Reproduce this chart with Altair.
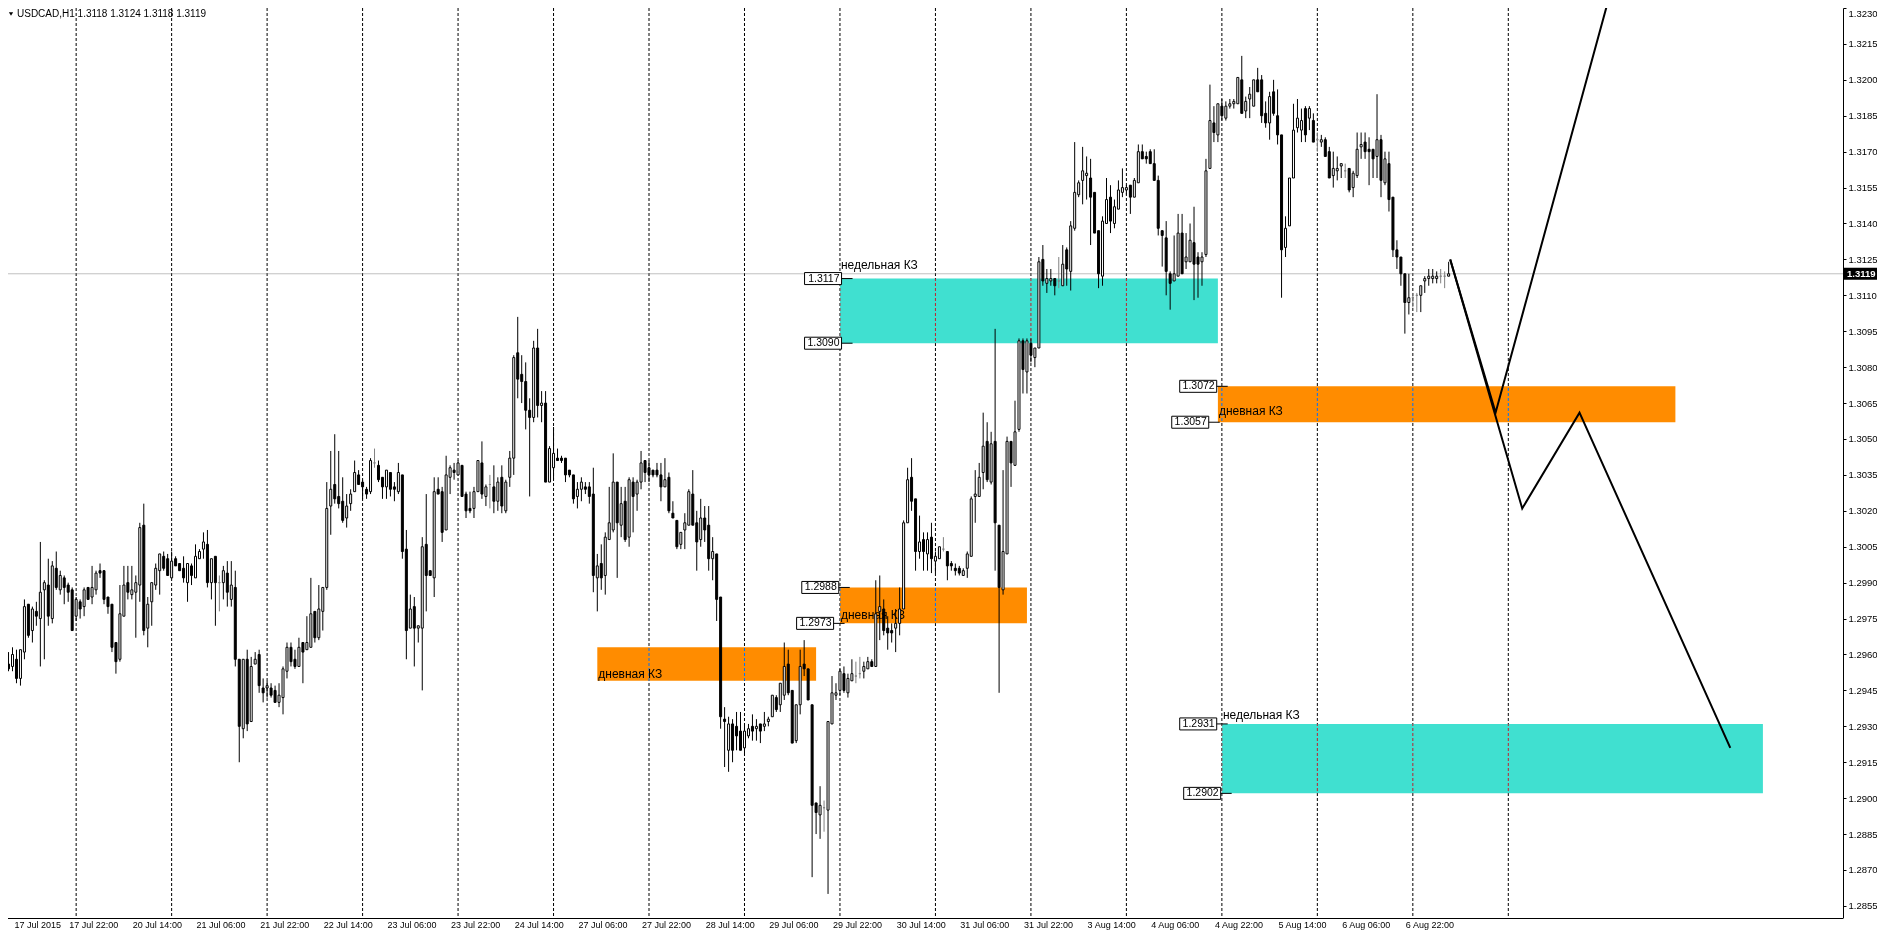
import altair as alt
import pandas as pd

FONT = "Liberation Sans"
W, H = 1835, 910
X_MIN, X_MAX = 2.125, 460.875
Y_MAX = 1.3230
Y_MIN = Y_MAX - H / 23944.0

TITLE = "USDCAD,H1  1.3118 1.3124 1.3118 1.3119"
CURRENT_PRICE = 1.3119

# ---- hourly candles, bar index 1.. (4 px per bar in the original) ----
FIRST_BAR = 1
OPEN = [
    1.2956,1.2955,1.2958,1.2950,1.2961,1.2981,1.2970,1.2978,1.2975,1.2987,
    1.2989,1.2975,1.2996,1.2987,1.2992,1.2989,1.2987,1.2976,1.2982,1.2980,
    1.2988,1.2984,1.2987,1.2995,1.2995,1.2984,1.2981,1.2965,1.2958,1.2976,
    1.2990,1.2985,1.2986,1.2989,1.3014,1.2971,1.2982,1.2989,1.2995,1.3001,
    1.3000,1.2992,1.3000,1.2998,1.2996,1.2990,1.2997,1.2992,1.3000,1.3004,
    1.3006,1.2990,1.3001,1.2990,1.2990,1.2994,1.2983,1.2988,1.2958,1.2929,
    1.2958,1.2932,1.2956,1.2960,1.2946,1.2946,1.2946,1.2945,1.2940,1.2942,
    1.2953,1.2963,1.2958,1.2955,1.2965,1.2962,1.2963,1.2978,1.2967,1.2978,
    1.2988,1.3022,1.3031,1.3026,1.3024,1.3017,1.3023,1.3028,1.3035,1.3032,
    1.3029,1.3028,1.3040,1.3039,1.3034,1.3030,1.3036,1.3030,1.3028,1.3035,
    1.3004,1.2971,1.2980,1.2971,1.2971,1.3006,1.2995,1.2992,1.3029,1.3028,
    1.3012,1.3034,1.3037,1.3035,1.3039,1.3027,1.3021,1.3021,1.3028,1.3040,
    1.3026,1.3031,1.3030,1.3024,1.3034,1.3020,1.3034,1.3042,1.3086,1.3077,
    1.3074,1.3062,1.3059,1.3088,1.3064,1.3065,1.3032,1.3038,1.3042,1.3042,
    1.3042,1.3037,1.3035,1.3026,1.3029,1.3030,1.3030,1.3027,1.2992,1.2998,
    1.2993,1.3008,1.3012,1.3032,1.3014,1.3024,1.3009,1.3032,1.3027,1.3032,
    1.3041,1.3038,1.3037,1.3037,1.3035,1.3030,1.3034,1.3019,1.3016,1.3006,
    1.3012,1.3014,1.3027,1.3015,1.3008,1.3017,1.3014,1.3000,1.3002,1.2984,
    1.2933,1.2920,1.2931,1.2930,1.2928,1.2921,1.2926,1.2930,1.2929,1.2931,
    1.2930,1.2932,1.2934,1.2942,1.2939,1.2943,1.2956,1.2945,1.2924,1.2939,
    1.2956,1.2954,1.2939,1.2898,1.2893,1.2896,1.2895,1.2931,1.2943,1.2945,
    1.2952,1.2944,1.2949,1.2951,1.2952,1.2953,1.2954,1.2957,1.2955,1.2978,
    1.2979,1.2971,1.2970,1.2971,1.2973,1.2979,1.3015,1.3034,1.3025,1.3003,
    1.3008,1.3002,1.3009,1.2999,1.3000,1.3004,1.3003,1.2998,1.2996,1.2996,
    1.2993,1.2996,1.3001,1.3026,1.3026,1.3036,1.3049,1.3032,1.3049,1.3014,
    1.2987,1.3002,1.3049,1.3039,1.3054,1.3091,1.3078,1.3090,1.3084,1.3088,
    1.3125,1.3115,1.3116,1.3117,1.3116,1.3114,1.3129,1.3120,1.3138,1.3152,
    1.3158,1.3160,1.3159,1.3153,1.3137,1.3118,1.3140,1.3151,1.3140,1.3146,
    1.3153,1.3154,1.3156,1.3151,1.3157,1.3170,1.3168,1.3170,1.3165,1.3158,
    1.3137,1.3134,1.3119,1.3116,1.3118,1.3136,1.3124,1.3124,1.3132,1.3126,
    1.3124,1.3127,1.3163,1.3182,1.3177,1.3189,1.3184,1.3189,1.3190,1.3190,
    1.3200,1.3187,1.3192,1.3189,1.3200,1.3200,1.3186,1.3182,1.3195,1.3185,
    1.3177,1.3130,1.3139,1.3159,1.3180,1.3179,1.3188,1.3184,1.3183,1.3175,
    1.3174,1.3175,1.3170,1.3160,1.3162,1.3164,1.3162,1.3163,1.3155,1.3160,
    1.3172,1.3174,1.3171,1.3171,1.3168,1.3175,1.3157,1.3165,1.3151,1.3129,
    1.3126,1.3119,1.3107,1.3109,1.3110,1.3110,1.3116,1.3117,1.3117,1.3117,1.3118,1.3118,1.3118,
]
HIGH = [
    1.2961,1.2963,1.2962,1.2962,1.2983,1.2981,1.2980,1.2982,1.3007,1.2991,
    1.3000,1.2999,1.3003,1.2995,1.2993,1.2990,1.2988,1.2984,1.2983,1.2988,
    1.2988,1.2997,1.2995,1.2998,1.2995,1.2984,1.2981,1.2965,1.2989,1.2997,
    1.2997,1.2997,1.2993,1.3015,1.3023,1.2984,1.2990,1.2998,1.3002,1.3003,
    1.3002,1.3003,1.3001,1.2998,1.3001,1.2998,1.2998,1.3006,1.3004,1.3011,
    1.3012,1.3000,1.3001,1.2993,1.2997,1.2999,1.2999,1.2995,1.2958,1.2958,
    1.2962,1.2959,1.2961,1.2962,1.2950,1.2949,1.2948,1.2947,1.2948,1.2955,
    1.2965,1.2965,1.2962,1.2967,1.2965,1.2976,1.2992,1.2978,1.2989,1.2988,
    1.3032,1.3045,1.3052,1.3045,1.3034,1.3027,1.3029,1.3041,1.3037,1.3033,
    1.3030,1.3042,1.3046,1.3041,1.3034,1.3037,1.3036,1.3032,1.3040,1.3035,
    1.3012,1.2985,1.2984,1.2972,1.3009,1.3027,1.2995,1.3034,1.3034,1.3030,
    1.3043,1.3039,1.3040,1.3041,1.3039,1.3028,1.3028,1.3030,1.3041,1.3049,
    1.3031,1.3035,1.3039,1.3034,1.3039,1.3033,1.3045,1.3085,1.3101,1.3085,
    1.3082,1.3067,1.3091,1.3096,1.3070,1.3070,1.3047,1.3055,1.3046,1.3043,
    1.3042,1.3037,1.3035,1.3032,1.3034,1.3032,1.3032,1.3038,1.3002,1.3006,
    1.3011,1.3030,1.3044,1.3032,1.3030,1.3030,1.3034,1.3034,1.3033,1.3045,
    1.3041,1.3041,1.3037,1.3040,1.3040,1.3042,1.3036,1.3024,1.3016,1.3011,
    1.3019,1.3029,1.3037,1.3020,1.3025,1.3022,1.3022,1.3009,1.3002,1.2984,
    1.2938,1.2934,1.2933,1.2936,1.2936,1.2931,1.2931,1.2935,1.2933,1.2931,
    1.2936,1.2934,1.2943,1.2943,1.2948,1.2965,1.2962,1.2945,1.2939,1.2962,
    1.2966,1.2954,1.2939,1.2898,1.2905,1.2899,1.2932,1.2951,1.2948,1.2954,
    1.2955,1.2952,1.2958,1.2957,1.2959,1.2957,1.2959,1.2958,1.2991,1.2993,
    1.2983,1.2976,1.2973,1.2979,1.2988,1.3016,1.3038,1.3042,1.3025,1.3018,
    1.3011,1.3011,1.3015,1.3003,1.3005,1.3009,1.3003,1.2999,1.2998,1.2997,
    1.2996,1.3003,1.3026,1.3037,1.3040,1.3061,1.3057,1.3053,1.3096,1.3014,
    1.3037,1.3051,1.3049,1.3066,1.3092,1.3092,1.3092,1.3092,1.3088,1.3126,
    1.3131,1.3121,1.3121,1.3117,1.3126,1.3131,1.3130,1.3141,1.3174,1.3158,
    1.3172,1.3168,1.3167,1.3153,1.3137,1.3143,1.3159,1.3156,1.3150,1.3158,
    1.3163,1.3156,1.3156,1.3159,1.3173,1.3173,1.3170,1.3171,1.3171,1.3160,
    1.3137,1.3141,1.3120,1.3135,1.3144,1.3144,1.3136,1.3140,1.3147,1.3128,
    1.3128,1.3167,1.3198,1.3189,1.3190,1.3192,1.3191,1.3192,1.3192,1.3201,
    1.3210,1.3193,1.3197,1.3200,1.3205,1.3202,1.3191,1.3195,1.3200,1.3196,
    1.3177,1.3143,1.3159,1.3190,1.3192,1.3188,1.3189,1.3189,1.3186,1.3178,
    1.3177,1.3176,1.3172,1.3170,1.3168,1.3165,1.3165,1.3163,1.3162,1.3178,
    1.3178,1.3178,1.3176,1.3171,1.3194,1.3177,1.3170,1.3170,1.3151,1.3133,
    1.3126,1.3119,1.3119,1.3111,1.3111,1.3114,1.3118,1.3121,1.3121,1.3120,1.3121,1.3120,1.3124,
]
LOW = [
    1.2953,1.2953,1.2948,1.2947,1.2958,1.2967,1.2965,1.2972,1.2955,1.2958,
    1.2972,1.2973,1.2987,1.2985,1.2981,1.2982,1.2970,1.2974,1.2975,1.2976,
    1.2983,1.2981,1.2985,1.2992,1.2981,1.2977,1.2961,1.2952,1.2957,1.2976,
    1.2983,1.2983,1.2967,1.2982,1.2968,1.2963,1.2972,1.2987,1.2985,1.2995,
    1.2993,1.2992,1.2997,1.2995,1.2990,1.2982,1.2989,1.2992,1.3000,1.3000,
    1.2988,1.2983,1.2972,1.2978,1.2983,1.2980,1.2980,1.2955,1.2915,1.2925,
    1.2928,1.2932,1.2956,1.2944,1.2940,1.2942,1.2942,1.2940,1.2938,1.2935,
    1.2950,1.2955,1.2954,1.2955,1.2948,1.2962,1.2963,1.2965,1.2966,1.2970,
    1.2987,1.3010,1.3023,1.3021,1.3015,1.3013,1.3020,1.3028,1.3031,1.3025,
    1.3025,1.3027,1.3038,1.3032,1.3025,1.3025,1.3026,1.3024,1.3027,1.3000,
    1.2958,1.2971,1.2955,1.2965,1.2945,1.2978,1.2993,1.2984,1.3027,1.3007,
    1.3012,1.3027,1.3033,1.3035,1.3026,1.3017,1.3019,1.3017,1.3028,1.3025,
    1.3022,1.3021,1.3019,1.3020,1.3019,1.3019,1.3030,1.3035,1.3067,1.3065,
    1.3054,1.3026,1.3057,1.3059,1.3057,1.3032,1.3032,1.3033,1.3041,1.3040,
    1.3032,1.3034,1.3023,1.3021,1.3024,1.3027,1.3023,1.2986,1.2978,1.2987,
    1.2985,1.3008,1.3011,1.2992,1.3009,1.3007,1.3005,1.3011,1.3020,1.3029,
    1.3032,1.3032,1.3034,1.3034,1.3024,1.3030,1.3019,1.3017,1.3004,1.3004,
    1.3004,1.3014,1.3014,1.2995,1.3005,1.3007,1.2995,1.2991,1.2974,1.2929,
    1.2913,1.2911,1.2915,1.2920,1.2920,1.2918,1.2925,1.2924,1.2924,1.2923,
    1.2928,1.2930,1.2934,1.2936,1.2936,1.2941,1.2943,1.2923,1.2923,1.2935,
    1.2951,1.2941,1.2867,1.2885,1.2883,1.2886,1.2860,1.2931,1.2941,1.2943,
    1.2944,1.2942,1.2949,1.2948,1.2950,1.2950,1.2954,1.2955,1.2955,1.2966,
    1.2968,1.2962,1.2965,1.2961,1.2968,1.2979,1.3015,1.3020,1.2995,1.3000,
    1.2995,1.2995,1.2994,1.2994,1.3000,1.3003,1.2991,1.2995,1.2993,1.2993,
    1.2993,1.2992,1.3001,1.3015,1.3026,1.3029,1.3032,1.3031,1.2995,1.2944,
    1.2985,1.3002,1.3030,1.3039,1.3053,1.3069,1.3069,1.3082,1.3080,1.3088,
    1.3114,1.3111,1.3114,1.3110,1.3113,1.3114,1.3114,1.3112,1.3137,1.3151,
    1.3148,1.3150,1.3131,1.3136,1.3113,1.3114,1.3140,1.3136,1.3138,1.3146,
    1.3151,1.3152,1.3144,1.3151,1.3157,1.3167,1.3165,1.3165,1.3158,1.3135,
    1.3122,1.3110,1.3104,1.3116,1.3118,1.3119,1.3121,1.3124,1.3108,1.3109,
    1.3114,1.3126,1.3163,1.3174,1.3174,1.3183,1.3183,1.3188,1.3188,1.3190,
    1.3186,1.3184,1.3184,1.3189,1.3195,1.3182,1.3180,1.3175,1.3185,1.3173,
    1.3109,1.3126,1.3139,1.3159,1.3178,1.3174,1.3174,1.3179,1.3174,1.3170,
    1.3172,1.3168,1.3159,1.3155,1.3158,1.3159,1.3159,1.3153,1.3151,1.3159,
    1.3167,1.3167,1.3156,1.3159,1.3159,1.3151,1.3156,1.3145,1.3126,1.3121,
    1.3114,1.3094,1.3102,1.3105,1.3103,1.3103,1.3111,1.3114,1.3115,1.3115,1.3115,1.3113,1.3118,
]
CLOSE = [
    1.2954,1.2960,1.2950,1.2962,1.2980,1.2968,1.2979,1.2976,1.2986,1.2990,
    1.2976,1.2997,1.2988,1.2993,1.2988,1.2986,1.2970,1.2983,1.2979,1.2987,
    1.2983,1.2988,1.2994,1.2994,1.2983,1.2980,1.2963,1.2957,1.2977,1.2989,
    1.2986,1.2987,1.2990,1.3013,1.2970,1.2981,1.2990,1.2996,1.3002,1.2996,
    1.2993,1.2999,1.2997,1.2995,1.2992,1.2998,1.2993,1.3001,1.3003,1.3007,
    1.2990,1.3000,1.2990,1.2990,1.2995,1.2986,1.2989,1.2958,1.2930,1.2958,
    1.2931,1.2955,1.2958,1.2947,1.2944,1.2947,1.2943,1.2940,1.2943,1.2954,
    1.2963,1.2957,1.2955,1.2963,1.2961,1.2965,1.2977,1.2967,1.2979,1.2988,
    1.3021,1.3029,1.3025,1.3023,1.3016,1.3022,1.3027,1.3036,1.3031,1.3030,
    1.3027,1.3041,1.3040,1.3033,1.3030,1.3037,1.3029,1.3029,1.3036,1.3003,
    1.2970,1.2979,1.2971,1.2972,1.3005,1.2993,1.2993,1.3028,1.3027,1.3011,
    1.3035,1.3038,1.3036,1.3040,1.3026,1.3020,1.3020,1.3028,1.3041,1.3027,
    1.3030,1.3031,1.3024,1.3032,1.3022,1.3032,1.3042,1.3084,1.3075,1.3074,
    1.3062,1.3059,1.3088,1.3064,1.3065,1.3032,1.3046,1.3044,1.3041,1.3041,
    1.3035,1.3035,1.3025,1.3029,1.3032,1.3029,1.3026,1.2993,1.2997,1.2992,
    1.3009,1.3015,1.3032,1.3015,1.3023,1.3008,1.3033,1.3026,1.3032,1.3040,
    1.3036,1.3035,1.3035,1.3035,1.3030,1.3033,1.3020,1.3017,1.3005,1.3011,
    1.3015,1.3028,1.3014,1.3007,1.3017,1.3012,1.3000,1.3003,1.2983,1.2934,
    1.2932,1.2931,1.2920,1.2926,1.2920,1.2928,1.2929,1.2928,1.2930,1.2928,
    1.2931,1.2933,1.2943,1.2937,1.2948,1.2955,1.2944,1.2923,1.2939,1.2955,
    1.2954,1.2941,1.2897,1.2894,1.2897,1.2896,1.2932,1.2944,1.2944,1.2953,
    1.2945,1.2950,1.2952,1.2951,1.2952,1.2955,1.2957,1.2955,1.2977,1.2980,
    1.2970,1.2969,1.2969,1.2973,1.2979,1.3015,1.3033,1.3024,1.3003,1.3007,
    1.3003,1.3008,1.3000,1.3001,1.3005,1.3004,1.2997,1.2997,1.2995,1.2994,
    1.2995,1.3002,1.3025,1.3027,1.3034,1.3047,1.3033,1.3048,1.3015,1.2988,
    1.3003,1.3049,1.3040,1.3053,1.3091,1.3079,1.3091,1.3085,1.3088,1.3124,
    1.3116,1.3117,1.3117,1.3114,1.3116,1.3123,1.3121,1.3139,1.3153,1.3157,
    1.3162,1.3161,1.3151,1.3136,1.3119,1.3141,1.3150,1.3141,1.3147,1.3154,
    1.3155,1.3155,1.3151,1.3158,1.3170,1.3167,1.3167,1.3165,1.3158,1.3138,
    1.3135,1.3120,1.3115,1.3119,1.3136,1.3119,1.3126,1.3133,1.3123,1.3123,
    1.3126,1.3162,1.3183,1.3178,1.3190,1.3185,1.3189,1.3190,1.3191,1.3201,
    1.3186,1.3191,1.3194,1.3200,1.3195,1.3185,1.3182,1.3193,1.3186,1.3177,
    1.3129,1.3138,1.3159,1.3179,1.3184,1.3183,1.3177,1.3188,1.3174,1.3175,
    1.3175,1.3168,1.3159,1.3163,1.3163,1.3165,1.3162,1.3154,1.3161,1.3171,
    1.3173,1.3170,1.3170,1.3167,1.3175,1.3158,1.3167,1.3150,1.3129,1.3126,
    1.3119,1.3107,1.3109,1.3109,1.3110,1.3114,1.3117,1.3118,1.3118,1.3118,1.3118,1.3118,1.3119,
]

# ---- day separators (bar index at 00:00) ----
GRID_BARS = [18, 42, 66, 90, 114, 138, 162, 186, 210, 234, 258, 282, 306, 330, 354, 378]

# ---- time scale labels ----
TIME_LABEL_BARS = [0, 16, 32, 48, 64, 80, 96, 112, 128, 144, 160, 176, 192, 208,
                   224, 240, 256, 272, 288, 304, 320, 336, 352]
TIME_LABELS = ["17 Jul 2015", "17 Jul 22:00", "20 Jul 14:00", "21 Jul 06:00", "21 Jul 22:00",
               "22 Jul 14:00", "23 Jul 06:00", "23 Jul 22:00", "24 Jul 14:00", "27 Jul 06:00",
               "27 Jul 22:00", "28 Jul 14:00", "29 Jul 06:00", "29 Jul 22:00", "30 Jul 14:00",
               "31 Jul 06:00", "31 Jul 22:00", "3 Aug 14:00", "4 Aug 06:00", "4 Aug 22:00",
               "5 Aug 14:00", "6 Aug 06:00", "6 Aug 22:00"]

PRICE_TICKS = [1.2855, 1.2870, 1.2885, 1.2900, 1.2915, 1.2930, 1.2945, 1.2960, 1.2975,
               1.2990, 1.3005, 1.3020, 1.3035, 1.3050, 1.3065, 1.3080, 1.3095, 1.3110,
               1.3125, 1.3140, 1.3155, 1.3170, 1.3185, 1.3200, 1.3215, 1.3230]

# ---- zones ----
ZONE_KIND = ["weekly", "daily", "daily", "daily", "weekly"]
ZONE_START = [210, 149, 210, 305, 306]
ZONE_END = [305, 204, 257, 420, 442]
ZONE_TOP = [1.3117, 1.2963, 1.2988, 1.3072, 1.2931]
ZONE_BOTTOM = [1.3090, 1.2949, 1.2973, 1.3057, 1.2902]
ZONE_TEXT = ["недельная КЗ", "дневная КЗ", "дневная КЗ", "дневная КЗ", "недельная КЗ"]
ZONE_TEXT_PRICE = [1.3121, 1.2950, 1.2975, 1.3060, 1.2933]

# ---- price labels at zone edges ----
PRICE_LABEL_BAR = [210.4, 210.4, 209.7, 208.4, 304.7, 302.7, 304.7, 305.7]
PRICE_LABEL_VALUE = [1.3117, 1.3090, 1.2988, 1.2973, 1.3072, 1.3057, 1.2931, 1.2902]

# ---- forecast zigzag lines ----
PATH_ID = ["a", "a", "a", "b", "b", "b", "b"]
PATH_BAR = [363.4, 374.8, 403.1, 363.4, 381.5, 395.9, 433.8]
PATH_PRICE = [1.3125, 1.3061, 1.3233, 1.3125, 1.3021, 1.3061, 1.2921]

# ================= build =================
n = min(len(OPEN), len(HIGH), len(LOW), len(CLOSE))
candles = pd.DataFrame({
    "bar": list(range(FIRST_BAR, FIRST_BAR + n)),
    "o": OPEN[:n], "h": HIGH[:n], "l": LOW[:n], "c": CLOSE[:n],
})
zones = pd.DataFrame({"kind": ZONE_KIND, "start": ZONE_START, "end": ZONE_END,
                      "top": ZONE_TOP, "bottom": ZONE_BOTTOM,
                      "label": ZONE_TEXT, "lp": ZONE_TEXT_PRICE})
plabels = pd.DataFrame({"bar": PRICE_LABEL_BAR, "value": PRICE_LABEL_VALUE,
                        "text": [f"{v:.4f}" for v in PRICE_LABEL_VALUE]})
paths = pd.DataFrame({"path": PATH_ID, "bar": PATH_BAR, "price": PATH_PRICE})
tl = pd.DataFrame({"bar": TIME_LABEL_BARS, "label": TIME_LABELS})
cur = pd.DataFrame({"p": [CURRENT_PRICE]})
grid = pd.DataFrame({"bar": GRID_BARS})
title_df = pd.DataFrame({"t": [TITLE]})

XS = alt.Scale(domain=[X_MIN, X_MAX], nice=False, zero=False)
YS = alt.Scale(domain=[Y_MIN, Y_MAX], nice=False, zero=False)
YAX = alt.Axis(orient="right", values=PRICE_TICKS, format=".4f", title=None, grid=False,
               tickSize=3, labelPadding=2, labelFont=FONT, labelFontSize=9.5,
               labelColor="#000000", tickColor="#000000", domainColor="#000000",
               labelOverlap=False, labelFlush=1)


def X(f):
    return alt.X(f, type="quantitative", scale=XS, axis=None)


def Y(f):
    return alt.Y(f, type="quantitative", scale=YS, axis=YAX)


zone_cyan = alt.Chart(zones).transform_filter("datum.kind == 'weekly'").mark_rect(
    color="#40E0D0").encode(x=X("start"), x2="end:Q", y=Y("top"), y2="bottom:Q")
zone_orange = alt.Chart(zones).transform_filter("datum.kind == 'daily'").mark_rect(
    color="#FF8C00").encode(x=X("start"), x2="end:Q", y=Y("top"), y2="bottom:Q")

cur_line = alt.Chart(cur).mark_rule(color="#C0C0C0", strokeWidth=1).encode(
    y=Y("p"), x=alt.value(0), x2=alt.value(W))

grid_lines = alt.Chart(grid).mark_rule(color="#FFFFFF", strokeDash=[3, 2], strokeWidth=1,
                                       blend="difference").encode(
    x=X("bar"), y=alt.value(0), y2=alt.value(H))

zone_text = alt.Chart(zones).mark_text(align="left", baseline="alphabetic", fontSize=12,
                                       font=FONT, color="#000000", dx=1).encode(
    x=X("start"), y=Y("lp"), text="label:N")

wicks = alt.Chart(candles).mark_rule(strokeWidth=1, clip=True).encode(
    x=X("bar"), y=Y("l"), y2="h:Q",
    stroke=alt.condition("datum.c == datum.o", alt.value("#808080"), alt.value("#000000")))

bodies = alt.Chart(candles).mark_bar(size=2, strokeWidth=1, clip=True).encode(
    x=X("bar"), y=Y("o"), y2="c:Q",
    fill=alt.condition("datum.c > datum.o", alt.value("#FFFFFF"), alt.value("#000000")),
    stroke=alt.condition("datum.c == datum.o", alt.value("#808080"), alt.value("#000000")))

zig = alt.Chart(paths).mark_line(color="#000000", strokeWidth=2, clip=True).encode(
    x=X("bar"), y=Y("price"), detail="path:N", order="bar:Q")

pbox = alt.Chart(plabels).mark_rect(fill="#FFFFFF", stroke="#000000", strokeWidth=1,
                                    xOffset=-37, yOffset=-6, y2Offset=6).encode(
    x=X("bar"), x2="bar:Q", y=Y("value"), y2="value:Q")
ptick = alt.Chart(plabels).mark_rule(color="#000000", strokeWidth=1, x2Offset=11).encode(
    x=X("bar"), x2="bar:Q", y=Y("value"))
ptext = alt.Chart(plabels).mark_text(align="right", baseline="middle", dx=-2, fontSize=10.5,
                                     font=FONT, color="#000000").encode(
    x=X("bar"), y=Y("value"), text="text:N")

title_tri = alt.Chart(title_df).mark_point(shape="triangle-down", filled=True, color="#000000",
                                           size=18, opacity=1).encode(
    x=alt.value(3), y=alt.value(6))
title = alt.Chart(title_df).mark_text(align="left", baseline="middle", fontSize=10, font=FONT,
                                      color="#000000").encode(
    x=alt.value(9), y=alt.value(6), text="t:N")

tlabels = alt.Chart(tl).transform_calculate(xpos=f"max(datum.bar, {X_MIN + 0.1})").mark_text(
    align="left", baseline="middle", fontSize=9, font=FONT, color="#000000", dx=1).encode(
    x=alt.X("xpos:Q", scale=XS, axis=None), y=alt.value(H + 7), text="label:N")

bottom_line = alt.Chart(cur).mark_rule(color="#000000", strokeWidth=1).encode(
    x=alt.value(0), x2=alt.value(W), y=alt.value(H + 0.5))

tag_rect = alt.Chart(cur).mark_rect(color="#000000", yOffset=-6, y2Offset=6).encode(
    x=alt.value(W + 1), x2=alt.value(W + 34), y=Y("p"), y2="p:Q")
tag_text = alt.Chart(cur).mark_text(align="left", baseline="middle", color="#FFFFFF",
                                    fontSize=9.5, fontWeight="bold", font=FONT).encode(
    x=alt.value(W + 4), y=Y("p"), text=alt.Text("p:Q", format=".4f"))

chart = alt.layer(
    zone_cyan, zone_orange, cur_line, grid_lines, zone_text,
    wicks, bodies, zig, pbox, ptick, ptext,
    title_tri, title, tlabels, bottom_line, tag_rect, tag_text,
).properties(
    width=W, height=H,
    autosize=alt.AutoSizeParams(type="none"),
    padding={"left": 0, "top": 0, "right": 34, "bottom": 13},
    background="#FFFFFF",
).configure_view(strokeWidth=0, fill="#FFFFFF")

chart.save("out.html", embed_options={"renderer": "svg", "actions": False})
